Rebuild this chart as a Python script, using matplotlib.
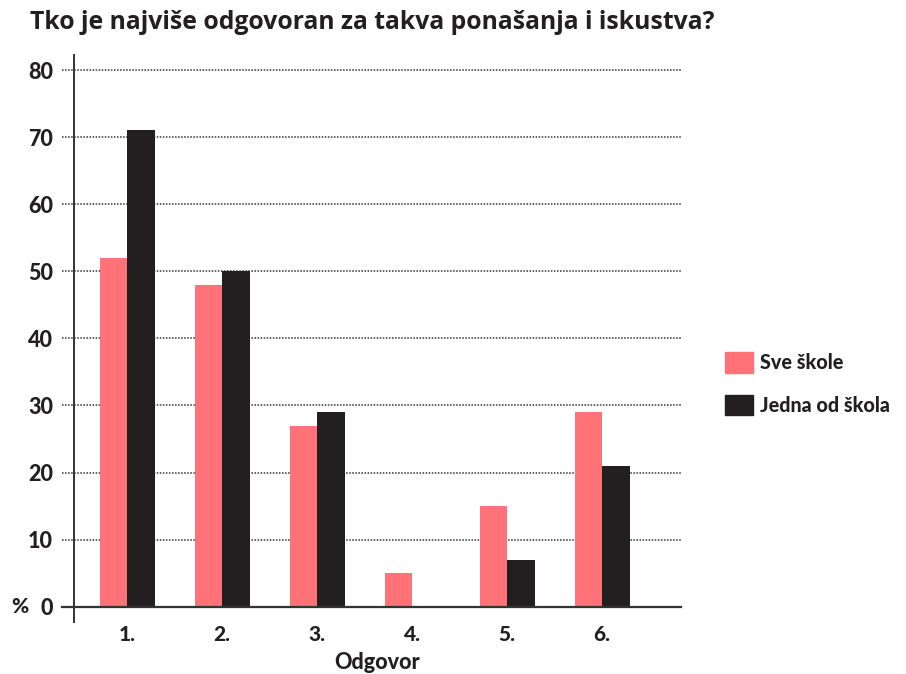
import matplotlib
matplotlib.use("Agg")
import matplotlib.pyplot as plt
import matplotlib.patches as mpatches
import numpy as np

categories = ["1.", "2.", "3.", "4.", "5.", "6."]
sve_skole = [52, 48, 27, 5, 15, 29]
jedna_od_skola = [71, 50, 29, 0, 7, 21]
series_labels = ["Sve škole", "Jedna od škola"]
yticks = [0, 10, 20, 30, 40, 50, 60, 70, 80]

PINK = "#FF7277"
DARK = "#231F20"

plt.rcParams["font.family"] = ["Lato", "DejaVu Sans"]

fig = plt.figure(figsize=(9.06, 6.74), dpi=100)
ax = fig.add_axes([0.0817, 0.077, 0.670, 0.841])

x = np.arange(len(categories))
w = 0.29
ax.bar(x - w / 2, sve_skole, w, color=PINK, zorder=3)
ax.bar(x + w / 2, jedna_od_skola, w, color=DARK, zorder=3)

ax.set_xlim(-0.56, 5.83)
ax.set_ylim(-2.3, 82.2)

# dotted grid lines, extending left past the y axis
for v in yticks[1:]:
    ax.axhline(v, xmin=-0.02, xmax=1, color="#333333", linestyle=(0, (1, 1)),
               linewidth=1.1, clip_on=False, zorder=1)
ax.axhline(0, xmin=-0.02, xmax=1, color="#333333", linewidth=1.6,
           clip_on=False, zorder=4)

for s in ["top", "right", "bottom"]:
    ax.spines[s].set_visible(False)
ax.spines["left"].set_linewidth(1.4)
ax.spines["left"].set_color("#333333")

ax.set_yticks(yticks)
ax.set_yticklabels([str(v) for v in yticks], fontsize=15.5, fontweight="black", color=DARK)
ax.tick_params(axis="y", length=0, pad=15)
ax.set_xticks(x)
ax.set_xticklabels(categories, fontsize=15, fontweight="black", color=DARK)
ax.tick_params(axis="x", length=0, pad=2)

ax.text(-0.103, 0, "%", transform=ax.get_yaxis_transform(), fontsize=15,
        fontweight="black", color=DARK, ha="left", va="center")

ax.set_xlabel("Odgovor", fontsize=15.5, fontweight="black", color=DARK, labelpad=6)

fig.text(0.033, 0.967, "Tko je najviše odgovoran za takva ponašanja i iskustva?",
         fontsize=17.8, fontweight="bold", color=DARK, ha="left", va="center",
         family=["Open Sans", "DejaVu Sans"])

handles = [mpatches.Patch(color=PINK), mpatches.Patch(color=DARK)]
leg = fig.legend(handles, series_labels, loc="upper left",
                 bbox_to_anchor=(0.791, 0.489), frameon=False,
                 prop={"size": 14.2, "weight": "black"},
                 handlelength=1.45, handleheight=1.2, handletextpad=0.35,
                 labelspacing=1.15, borderaxespad=0)
for t in leg.get_texts():
    t.set_color(DARK)

fig.savefig("out.png", dpi=100)
